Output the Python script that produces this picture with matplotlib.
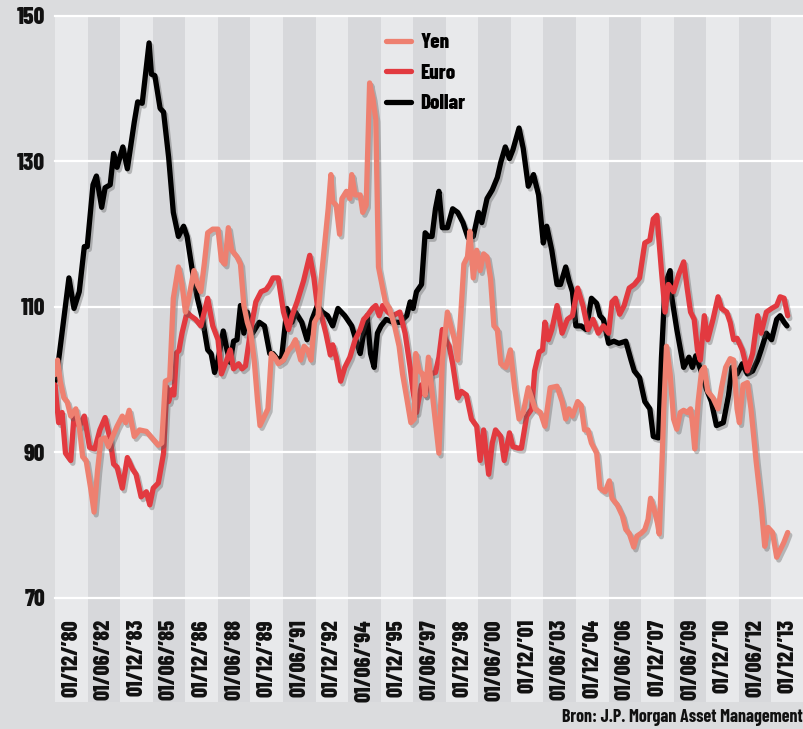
import matplotlib
matplotlib.use("Agg")
import matplotlib.pyplot as plt
import matplotlib.patheffects as pe
from matplotlib.lines import Line2D

# x = maanden sinds december 1980, y = index (koers)
dollar_x = [0, 2.0, 7.7, 10.5, 13.4, 16.2, 17.8, 21.0, 22.9, 25.8, 27.7, 30.5, 32.4, 34.3, 37.5, 40.0,
            43.8, 45.7, 48.2, 52.0, 53.3, 55.2, 58.1, 60.0, 62.8, 65.4, 68.2, 71.1, 73.0, 75.9, 78.7,
            81.6, 84.4, 86.3, 88.2, 90.1, 93.0, 94.9, 96.8, 98.7, 100.6, 102.5, 104.4, 106.3, 109.2,
            112.9, 115.8, 118.7, 120.5, 123.4, 125.3, 128.2, 131.0, 132.9, 136.4, 139.3, 142.1, 145.0,
            147.8, 150.7, 153.5, 156.4, 160.2, 164.0, 166.9, 168.7, 170.6, 172.5, 174.4, 176.4, 178.2,
            180.2, 183.0, 186.8, 190.6, 194.4, 196.3, 197.9, 199.8, 202.6, 204.6, 206.4, 208.4, 210.3,
            212.2, 214.1, 216.9, 219.8, 222.6, 225.5, 228.3, 231.2, 234.1, 235.9, 238.8, 241.7, 244.5,
            246.4, 248.9, 251.2, 253.1, 256.5, 258.8, 261.6, 264.5, 267.3, 269.9, 271.8, 274.6, 277.5,
            279.4, 282.3, 284.1, 286.0, 287.9, 290.8, 293.6, 296.5, 299.4, 301.2, 303.1, 306.0, 308.9,
            311.7, 315.5, 318.4, 320.2, 323.1, 326.0, 328.8, 330.7, 333.6, 335.2, 337.2, 340.0, 341.0,
            343.7, 347.5, 350.4, 352.3, 354.2, 357.1, 359.9, 362.8, 365.6, 369.4, 372.3, 374.2, 377.0,
            379.9, 382.7, 385.6, 388.4, 390.3, 393.2, 396.1, 398.9, 400.8, 403.0, 404.6]
dollar = [99.8, 102.7, 114.0, 109.8, 112.1, 118.3, 118.3, 126.8, 128.0, 123.7, 126.4, 126.8, 131.1, 129.2,
          132.0, 129.0, 135.4, 138.2, 138.0, 146.3, 142.0, 141.8, 137.3, 136.8, 130.6, 123.0, 119.7,
          121.1, 119.7, 115.0, 111.2, 108.3, 104.1, 103.6, 101.0, 102.7, 106.7, 104.3, 102.4, 105.3,
          105.5, 110.2, 106.4, 109.3, 106.4, 107.9, 107.4, 103.6, 103.6, 102.7, 103.1, 109.8, 107.9,
          109.3, 107.9, 105.5, 108.3, 110.2, 109.3, 108.8, 107.4, 109.8, 108.8, 107.4, 105.0, 103.6,
          106.4, 108.8, 103.6, 101.7, 106.4, 107.4, 108.3, 107.9, 107.9, 108.8, 110.7, 109.8, 112.1,
          113.1, 120.2, 119.7, 119.7, 123.5, 125.9, 120.9, 120.9, 123.5, 123.0, 121.6, 119.5, 119.7,
          123.0, 121.6, 124.9, 126.1, 127.8, 129.9, 132.0, 130.4, 131.6, 134.6, 131.8, 126.6, 128.2,
          125.4, 118.8, 121.1, 117.8, 113.1, 113.1, 115.5, 113.6, 112.1, 107.4, 107.4, 106.9, 111.2,
          110.5, 108.8, 108.3, 105.0, 105.3, 105.0, 105.3, 102.7, 101.2, 100.3, 97.0, 96.0, 92.2, 92.0,
          103.0, 113.1, 115.0, 111.2, 106.9, 101.7, 103.1, 101.7, 103.3, 101.2, 98.8, 97.0, 93.7, 94.1,
          97.9, 101.7, 100.8, 102.2, 100.8, 101.2, 102.7, 104.1, 106.4, 105.5, 108.3, 108.8, 107.9, 107.4]

euro_x = [0, 2.0, 3.9, 5.8, 8.7, 10.5, 13.4, 16.2, 19.1, 22.0, 24.8, 27.7, 30.5, 32.4, 34.3, 37.2, 40.0,
          42.9, 44.8, 47.6, 50.5, 52.4, 54.3, 57.1, 60.0, 61.7, 62.8, 64.4, 65.7, 67.2, 68.5, 70.2, 73.0,
          74.9, 77.7, 80.6, 84.4, 87.2, 90.1, 92.0, 94.9, 96.8, 98.7, 101.5, 103.4, 105.3, 108.2, 111.0,
          113.9, 116.7, 118.7, 120.5, 123.4, 126.3, 129.1, 131.0, 133.8, 137.4, 140.8, 143.1, 145.0,
          147.8, 149.7, 152.2, 153.5, 155.4, 157.9, 160.2, 163.0, 165.9, 168.7, 170.6, 172.5, 175.4,
          177.3, 179.2, 181.1, 184.0, 186.8, 190.6, 193.5, 196.3, 197.9, 199.8, 200.8, 202.6, 204.6,
          207.4, 210.3, 212.2, 214.1, 216.0, 217.9, 219.8, 222.6, 224.6, 227.4, 230.2, 233.1, 235.0,
          236.9, 239.7, 241.7, 243.5, 246.4, 248.3, 251.2, 253.1, 255.9, 257.8, 260.7, 263.5, 265.1,
          267.6, 269.5, 270.8, 272.7, 274.6, 277.5, 280.3, 283.2, 286.0, 288.9, 291.8, 294.6, 297.4,
          300.3, 303.1, 306.0, 307.9, 309.8, 312.1, 314.6, 317.4, 320.2, 323.1, 326.0, 328.8, 330.7,
          332.7, 335.2, 337.2, 339.0, 341.9, 344.8, 347.5, 349.4, 351.3, 353.3, 355.1, 356.7, 358.9,
          360.8, 363.7, 366.5, 368.4, 371.3, 373.2, 375.1, 377.0, 379.9, 382.7, 385.6, 388.4, 390.3,
          393.2, 396.1, 398.9, 400.8, 403.0, 405.0]
euro = [99.3, 94.1, 95.5, 89.9, 88.9, 95.0, 93.6, 95.0, 90.7, 90.5, 93.1, 94.8, 91.8, 88.4, 88.0, 85.1,
        89.3, 87.7, 87.0, 83.9, 84.6, 82.8, 85.1, 85.8, 89.9, 99.0, 97.0, 98.6, 97.9, 103.7, 104.0,
        106.4, 109.3, 108.8, 108.3, 107.4, 111.2, 107.4, 105.5, 100.8, 102.7, 104.1, 101.5, 102.2,
        101.5, 101.9, 106.9, 110.7, 112.1, 112.4, 113.1, 114.0, 114.0, 109.3, 106.9, 108.8, 110.7,
        113.6, 117.1, 114.0, 110.2, 108.3, 106.4, 103.4, 104.8, 103.1, 99.8, 101.7, 103.1, 105.5,
        106.9, 108.3, 108.8, 109.8, 110.2, 108.8, 110.2, 109.3, 108.8, 109.3, 106.4, 101.7, 98.4, 95.5,
        97.0, 99.3, 97.9, 100.8, 101.0, 103.1, 106.9, 105.5, 104.6, 102.2, 97.5, 98.4, 97.9, 94.6,
        93.6, 88.9, 93.1, 87.0, 91.3, 93.1, 92.2, 88.9, 92.7, 90.8, 90.6, 90.6, 95.0, 96.0, 101.2,
        103.8, 104.1, 107.9, 105.5, 106.9, 110.2, 106.4, 108.3, 108.8, 112.6, 110.2, 106.9, 108.3,
        106.4, 107.4, 106.4, 110.7, 111.2, 109.0, 110.2, 112.6, 113.1, 114.0, 118.8, 119.2, 122.1,
        122.6, 115.0, 109.3, 113.1, 112.1, 114.5, 116.2, 112.6, 109.3, 108.3, 104.1, 102.7, 108.8,
        105.5, 108.3, 111.4, 109.8, 109.3, 107.9, 105.5, 105.7, 104.1, 101.2, 103.6, 108.8, 106.4,
        109.3, 109.8, 110.2, 111.4, 111.2, 108.8]

yen_x = [0, 1.4, 2.9, 4.9, 6.7, 8.7, 11.5, 13.4, 15.3, 17.2, 19.7, 21.6, 23.5, 25.4, 27.7, 29.5, 31.5,
         34.3, 37.2, 39.1, 41.0, 43.8, 46.7, 50.5, 54.3, 57.1, 59.0, 61.0, 63.4, 65.4, 68.2, 70.2, 72.1,
         73.9, 76.8, 78.7, 80.6, 82.5, 84.4, 87.2, 90.1, 92.0, 93.9, 95.8, 97.7, 100.6, 102.5, 104.4,
         106.3, 108.2, 110.1, 112.0, 113.3, 115.8, 117.7, 119.6, 121.5, 123.4, 126.3, 129.1, 131.0,
         132.9, 135.8, 137.7, 139.6, 141.5, 143.4, 145.4, 147.2, 149.1, 151.0, 152.5, 153.5, 155.4,
         157.3, 158.6, 161.1, 163.0, 164.0, 165.9, 168.7, 170.1, 172.0, 173.9, 175.7, 177.3, 178.8,
         180.7, 182.6, 184.9, 187.7, 190.2, 192.1, 194.4, 196.7, 198.6, 199.4, 201.3, 203.2, 204.6,
         206.4, 208.4, 210.3, 212.2, 214.1, 216.9, 218.8, 220.8, 222.6, 224.6, 226.0, 228.0, 229.3,
         231.2, 233.1, 235.0, 236.9, 238.8, 240.7, 242.6, 244.5, 246.4, 249.2, 251.7, 254.0, 256.5,
         258.8, 261.6, 264.1, 265.4, 268.3, 270.8, 273.7, 277.5, 280.3, 282.3, 284.1, 286.0, 288.9,
         290.8, 292.7, 294.6, 296.5, 299.4, 301.2, 304.1, 306.4, 307.9, 310.8, 313.6, 315.5, 317.4,
         319.9, 321.6, 324.0, 326.0, 327.8, 329.2, 331.1, 333.0, 334.0, 335.7, 336.5, 338.0, 340.0,
         341.9, 343.7, 345.6, 347.5, 349.4, 351.3, 352.3, 353.6, 355.5, 357.4, 358.9, 360.8, 363.7,
         366.5, 368.4, 370.7, 373.2, 375.1, 377.0, 378.3, 380.3, 382.7, 384.7, 387.5, 390.3, 392.3,
         394.1, 396.6, 398.9, 400.8, 402.8, 405.0]
yen = [100.7, 102.7, 99.8, 97.5, 97.0, 95.0, 96.0, 93.6, 89.4, 88.9, 85.1, 81.8, 87.5, 91.8, 92.0, 90.8,
       92.0, 93.6, 95.0, 94.1, 95.8, 92.2, 93.1, 92.9, 91.8, 91.0, 91.3, 99.8, 100.1, 111.2, 115.5,
       113.1, 109.3, 111.2, 115.0, 113.1, 112.1, 115.9, 120.2, 120.7, 120.7, 116.4, 115.9, 120.9,
       117.8, 116.9, 115.9, 110.2, 107.9, 106.4, 102.7, 97.0, 93.7, 95.0, 96.0, 103.6, 103.1, 102.2,
       102.7, 104.1, 104.6, 105.5, 102.7, 104.6, 104.1, 102.7, 107.9, 108.8, 114.0, 118.8, 123.5,
       128.2, 124.5, 124.0, 120.0, 124.9, 125.9, 124.9, 128.2, 125.4, 125.4, 123.0, 124.0, 140.8,
       138.7, 135.8, 115.5, 113.1, 110.7, 109.8, 107.4, 104.6, 100.8, 97.5, 94.1, 94.6, 103.6, 101.2,
       100.8, 97.9, 103.1, 98.4, 94.1, 89.9, 102.7, 109.3, 107.4, 105.5, 102.7, 110.2, 115.9, 116.9,
       120.4, 114.0, 117.8, 115.0, 117.3, 116.9, 114.0, 107.4, 106.9, 102.2, 101.7, 104.1, 98.9, 94.6,
       95.5, 98.9, 97.0, 96.0, 95.5, 93.6, 98.9, 99.1, 97.0, 94.6, 96.0, 95.0, 97.0, 96.5, 93.1, 93.1,
       91.3, 89.9, 85.1, 84.6, 86.1, 83.7, 82.8, 81.3, 79.4, 78.9, 77.0, 78.5, 78.9, 79.4, 80.8, 83.7,
       82.2, 80.3, 78.8, 90.0, 96.0, 104.6, 100.8, 94.6, 93.2, 95.5, 95.8, 95.5, 96.0, 94.1, 90.5,
       97.0, 101.2, 101.7, 98.4, 97.5, 96.0, 98.9, 101.7, 102.9, 102.7, 96.0, 94.1, 99.3, 99.6, 96.0,
       88.9, 82.7, 77.1, 79.7, 79.0, 75.6, 76.6, 77.6, 79.0]

tick_labels = ["01/12/’80", "01/06/’82", "01/12/’83", "01/06/’85", "01/12/’86", "01/06/’88",
               "01/12/’89", "01/06/’91", "01/12/’92", "01/06/’94", "01/12/’95", "01/06/’97",
               "01/12/’98", "01/06/’00", "01/12/’01", "01/06/’03", "01/12/’04", "01/06/’06",
               "01/12/’07", "01/06/’09", "01/12/’10", "01/06/’12", "01/12/’13"]
y_ticks = [70, 90, 110, 130, 150]

FONT = ['Barlow Condensed', 'DejaVu Sans']
plt.rcParams['font.family'] = FONT
plt.rcParams['font.weight'] = 'bold'

fig = plt.figure(figsize=(8.04, 7.29), dpi=100, facecolor='#dbdcde')
ax = fig.add_axes([55 / 804, 27 / 729, 749 / 804, 686 / 729])
ax.set_facecolor('#dbdcde')

# banden van 18 maanden, label in het midden
for i in range(len(tick_labels)):
    kleur = '#e8e9eb' if i % 2 == 0 else '#d7d8db'
    ax.axvspan(18 * i, 18 * (i + 1), color=kleur, lw=0, zorder=0)
    ax.text(18 * i + 9, 67.1, tick_labels[i], rotation=90, ha='center', va='top',
            fontsize=16, fontweight=800, color='#111111')

for y in y_ticks:
    ax.axhline(y, color='white', lw=1.6, zorder=1, clip_on=False)

schaduw = [pe.SimpleLineShadow(offset=(1.5, -2), shadow_color='#555555', alpha=0.35), pe.Normal()]
ax.plot(dollar_x, dollar, color='black', lw=3.8, zorder=3, solid_joinstyle='round',
        solid_capstyle='round', path_effects=schaduw)
ax.plot(euro_x, euro, color='#e23a40', lw=3.8, zorder=4, solid_joinstyle='round',
        solid_capstyle='round', path_effects=schaduw)
ax.plot(yen_x, yen, color='#ee8070', lw=3.8, zorder=5, solid_joinstyle='round',
        solid_capstyle='round', path_effects=schaduw)

ax.set_xlim(0, 18 * len(tick_labels))
ax.set_ylim(55.7, 150)
ax.set_xticks([])
ax.set_yticks(y_ticks)
ax.set_yticklabels([str(v) for v in y_ticks], fontsize=17, fontweight=800, color='#111111')
ax.tick_params(axis='y', length=0, pad=7)
for s in ax.spines.values():
    s.set_visible(False)

handles = [Line2D([], [], color='#ee8070', lw=3.8, solid_capstyle='round'),
           Line2D([], [], color='#e23a40', lw=3.8, solid_capstyle='round'),
           Line2D([], [], color='black', lw=3.8, solid_capstyle='round')]
fig.legend(handles, ['Yen', 'Euro', 'Dollar'], loc='upper left',
           bbox_to_anchor=(386 / 804, 1 - 33 / 729), frameon=False, borderpad=0,
           borderaxespad=0, handlelength=1.2, handletextpad=0.45, labelspacing=0.56,
           prop={'family': FONT, 'weight': 800, 'size': 15})

fig.text(803 / 804, 1 - 717 / 729, 'Bron: J.P. Morgan Asset Management', ha='right', va='center',
         fontsize=13, fontweight='bold', color='#111111')

fig.savefig('out.png', dpi=100, facecolor=fig.get_facecolor())
